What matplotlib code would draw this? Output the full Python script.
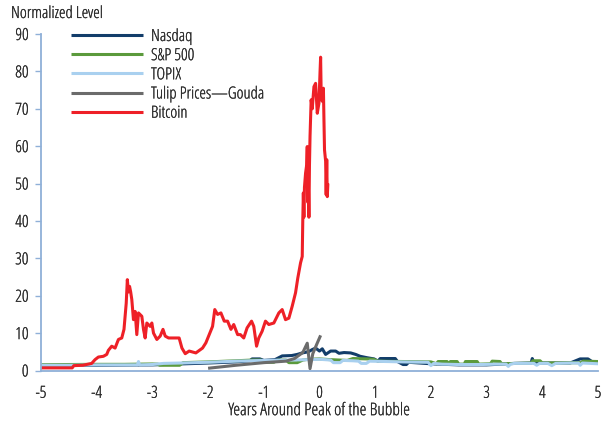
import matplotlib
matplotlib.use("Agg")
import matplotlib.pyplot as plt
from matplotlib import font_manager as fm
import matplotlib.patheffects as pe

# pick a condensed sans if one is installed
COND = {"condensed", "semi-condensed", "extra-condensed", "ultra-condensed"}
FONT, STRETCH, WEIGHT = "DejaVu Sans", "normal", 400
for fam in ["Roboto", "Open Sans", "Noto Sans", "DejaVu Sans", "Liberation Sans"]:
    ents = [f for f in fm.fontManager.ttflist if f.name == fam and
            ((str(f.stretch) in COND) or ("ondensed" in f.fname))]
    if ents:
        FONT, STRETCH = fam, "condensed"
        ws = sorted({f.weight for f in ents if isinstance(f.weight, int)})
        WEIGHT = 400 if 400 in ws else (300 if 300 in ws else 400)
        break
plt.rcParams["font.family"] = [FONT, "DejaVu Sans"]
plt.rcParams["font.stretch"] = STRETCH
plt.rcParams["font.weight"] = WEIGHT

# ---------------- data (years around peak, normalized level) ----------------
btc_x = [-5.0, -4.6, -4.44, -4.41, -4.25, -4.09, -4.03, -3.97, -3.88, -3.82, -3.79, -3.73, -3.67,
         -3.61, -3.55, -3.51, -3.47, -3.45, -3.43, -3.41, -3.39, -3.37, -3.34, -3.31, -3.28, -3.25,
         -3.19, -3.16, -3.13, -3.10, -3.04, -3.01, -2.98, -2.92, -2.86, -2.81, -2.77, -2.71, -2.62,
         -2.52, -2.47, -2.41, -2.34, -2.22, -2.10, -2.04, -1.98, -1.92, -1.88, -1.83, -1.77, -1.71,
         -1.65, -1.59, -1.54, -1.47, -1.42, -1.36, -1.30, -1.22, -1.18, -1.13, -1.09, -1.03, -0.97,
         -0.91, -0.82, -0.73, -0.67, -0.61, -0.55, -0.49, -0.43, -0.39, -0.34, -0.31, -0.30, -0.29,
         -0.28, -0.27, -0.25, -0.23, -0.22, -0.21, -0.20, -0.19, -0.18, -0.17, -0.15, -0.13, -0.10,
         -0.07, -0.04, -0.01, 0.01, 0.02, 0.03, 0.05, 0.07, 0.08, 0.09, 0.11, 0.12, 0.13, 0.14, 0.15]
btc_y = [0.7, 0.7, 0.7, 1.3, 1.4, 1.9, 2.9, 3.6, 3.8, 4.3, 5.4, 6.5, 6.0,
         8.3, 8.7, 11.0, 18.0, 24.3, 21.0, 22.5, 21.0, 19.0, 13.6, 15.8, 9.6, 15.4,
         14.5, 11.0, 8.7, 12.7, 11.8, 12.7, 10.0, 8.3, 9.2, 11.0, 9.2, 8.7, 8.7,
         8.7, 6.0, 4.5, 5.2, 4.7, 6.0, 7.4, 9.6, 11.8, 16.3, 15.0, 15.4, 13.2,
         13.2, 11.0, 12.3, 9.6, 9.6, 8.7, 11.4, 13.2, 11.8, 6.5, 8.7, 10.5, 13.2,
         12.3, 12.7, 15.4, 16.3, 13.6, 14.0, 17.2, 20.8, 24.7, 28.8, 30.5, 40.3, 47.5,
         41.0, 49.0, 52.8, 55.0, 59.9, 45.0, 50.0, 41.0, 55.0, 62.6, 72.4, 70.0, 75.9,
         76.8, 68.8, 71.5, 80.0, 83.8, 74.2, 72.0, 75.5, 67.0, 59.0, 56.0, 47.0, 56.4, 46.5, 50.0]

tulip_x = [-2.0, -1.5, -1.0, -0.6, -0.45, -0.3, -0.22, -0.17, -0.12, -0.05, 0.02]
tulip_y = [0.6, 1.4, 2.1, 2.5, 3.2, 4.8, 7.3, 0.5, 4.5, 7.0, 9.4]

nasdaq_x = [-5.0, -4.0, -3.0, -2.0, -1.5, -1.25, -1.21, -1.07, -1.0, -0.8, -0.67, -0.5, -0.4, -0.31,
            -0.2, -0.13, -0.07, 0.0, 0.05, 0.11, 0.2, 0.29, 0.35, 0.44, 0.56, 0.65, 0.73, 0.86,
            0.98, 1.05, 1.09, 1.36, 1.4, 1.5, 1.56, 1.6, 2.0, 2.5, 3.0, 3.5, 3.8, 3.82, 3.85,
            4.5, 4.68, 4.82, 4.9, 5.0]
nasdaq_y = [1.3, 1.4, 1.5, 2.0, 2.3, 2.6, 3.1, 3.1, 2.7, 2.9, 3.9, 4.0, 4.3, 4.7,
            5.0, 5.6, 6.0, 5.2, 5.8, 4.3, 5.2, 5.2, 4.6, 4.8, 4.7, 4.3, 3.8, 3.4,
            3.1, 2.5, 3.2, 3.2, 2.4, 1.6, 1.6, 2.2, 1.8, 1.5, 1.5, 1.9, 2.0, 3.2, 2.0,
            2.0, 3.1, 3.1, 2.3, 2.0]

sp_x = [-5.0, -4.0, -3.5, -3.0, -2.9, -2.87, -2.51, -2.45, -2.0, -1.5, -1.2, -1.05, -1.0, -0.82,
        -0.75, -0.6, -0.55, -0.4, -0.3, -0.2, 0.0, 0.2, 0.5, 0.6, 0.85, 0.97, 1.05, 1.5, 2.0,
        2.1, 2.13, 2.29, 2.32, 2.35, 2.47, 2.5, 2.6, 2.62, 2.83, 2.86, 3.07, 3.1, 3.24, 3.27,
        3.8, 3.83, 3.96, 4.0, 4.7, 4.73, 5.0]
sp_y = [1.55, 1.65, 1.65, 1.75, 1.7, 1.4, 1.4, 2.1, 2.3, 2.6, 2.8, 2.8, 2.2, 2.2,
        2.8, 2.8, 2.1, 2.1, 2.8, 3.0, 3.1, 2.9, 2.7, 3.2, 3.1, 3.0, 2.5, 2.4, 2.3,
        1.8, 2.4, 2.4, 1.8, 2.4, 2.4, 1.7, 1.7, 2.4, 2.4, 1.7, 1.8, 2.5, 2.4, 1.8,
        2.0, 2.6, 2.6, 2.0, 2.1, 2.5, 2.4]

topix_x = [-5.0, -4.5, -4.0, -3.5, -3.27, -3.25, -3.23, -3.0, -2.8, -2.5, -2.0, -1.5, -1.0, -0.5,
           -0.2, 0.0, 0.2, 0.25, 0.37, 0.42, 0.6, 0.7, 0.75, 0.84, 0.9, 1.2, 1.5, 1.95, 2.0,
           2.05, 2.2, 2.5, 2.9, 3.2, 3.35, 3.39, 3.43, 3.5, 3.85, 3.9, 3.95, 4.1, 4.17, 4.24,
           4.5, 4.65, 4.68, 4.72, 5.0]
topix_y = [1.4, 1.4, 1.5, 1.5, 1.5, 2.4, 1.5, 1.6, 1.9, 2.0, 2.2, 2.5, 2.7, 2.8,
           2.9, 3.0, 2.8, 2.1, 2.1, 2.7, 2.6, 2.5, 1.9, 1.9, 2.5, 2.4, 2.3, 2.2, 1.3,
           1.9, 1.7, 1.6, 1.6, 1.7, 1.7, 1.1, 1.7, 1.9, 1.9, 1.4, 1.9, 1.9, 1.3, 1.9,
           2.0, 2.0, 1.4, 2.0, 1.8]

labels = ["Nasdaq", "S&P 500", "TOPIX", "Tulip Prices\u2014Gouda", "Bitcoin"]
colors = ["#123d6a", "#5b9a3c", "#a9d0ef", "#6b6b6b", "#ee2027"]
x_ticks = [-5, -4, -3, -2, -1, 0, 1, 2, 3, 4, 5]
y_ticks = [0, 10, 20, 30, 40, 50, 60, 70, 80, 90]

# ---------------- figure ----------------
TXT = "#2b2b2b"
SPINE = "#8fb0d8"
FS = 12
fig = plt.figure(figsize=(6.10, 4.21), dpi=100)
ax = fig.add_axes([41 / 610, (421 - 370.5) / 421, (598 - 41) / 610, (370.5 - 34) / 421])

lw = 2.2
series = [(nasdaq_x, nasdaq_y), (sp_x, sp_y), (topix_x, topix_y), (tulip_x, tulip_y), (btc_x, btc_y)]
for (xs, ys), lab, col in zip(series, labels, colors):
    ax.plot(xs, ys, color=col, lw=lw, label=lab, solid_joinstyle="round", solid_capstyle="butt")

ax.set_xlim(-5, 5)
ax.set_ylim(0, 90)
ax.set_xticks(x_ticks)
ax.set_yticks(y_ticks)
ax.set_xticklabels([str(t) for t in x_ticks])
ax.set_yticklabels([str(t) for t in y_ticks])
for s in ["top", "right"]:
    ax.spines[s].set_visible(False)
for s in ["left", "bottom"]:
    ax.spines[s].set_color(SPINE)
    ax.spines[s].set_linewidth(1.3)
ax.tick_params(axis="y", length=4, width=1.0, color=SPINE, labelsize=FS, labelcolor=TXT, pad=5)
ax.tick_params(axis="x", length=0, labelsize=FS, labelcolor=TXT, pad=11)
ax.set_xlabel("Years Around Peak of the Bubble", fontsize=12.5, color=TXT, labelpad=1)

title = fig.text(11 / 610, 1 - 14 / 421, "Normalized Level", fontsize=FS, color=TXT, va="center", ha="left")

leg = ax.legend(loc="upper left", bbox_to_anchor=(71 / 610, 1 - 29 / 421), bbox_transform=fig.transFigure,
                frameon=False, fontsize=FS, handlelength=4.3, handletextpad=0.5, labelspacing=0.19,
                borderpad=0, borderaxespad=0)
for t in leg.get_texts():
    t.set_color(TXT)
for h in leg.get_lines():
    h.set_linewidth(2.2)

if WEIGHT < 400:
    fx = [pe.withStroke(linewidth=0.13, foreground=TXT)]
    for t in ([title, ax.xaxis.label] + ax.get_xticklabels() + ax.get_yticklabels() + leg.get_texts()):
        t.set_path_effects(fx)

fig.savefig("out.png", dpi=100)
